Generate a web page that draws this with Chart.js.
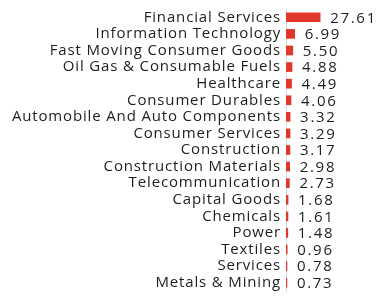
<!DOCTYPE html>
<html>
<head>
<meta charset="utf-8">
<script src="https://cdn.jsdelivr.net/npm/chart.js@4"></script>
<style>
  html, body { margin: 0; padding: 0; background: #fff; }
  #wrap { width: 389px; height: 301px; }
</style>
</head>
<body>
<div id="wrap"><canvas id="sectorChart"></canvas></div>
<script>
// Данные по секторам (%)
const sectors = [
    'Financial Services', 'Information Technology', 'Fast Moving Consumer Goods',
    'Oil Gas & Consumable Fuels', 'Healthcare', 'Consumer Durables',
    'Automobile And Auto Components', 'Consumer Services', 'Construction',
    'Construction Materials', 'Telecommunication', 'Capital Goods',
    'Chemicals', 'Power', 'Textiles', 'Services', 'Metals & Mining'
];
const weights = [27.61, 6.99, 5.50, 4.88, 4.49, 4.06, 3.32, 3.29, 3.17, 2.98, 2.73, 1.68, 1.61, 1.48, 0.96, 0.78, 0.73];

const FONT = '"Open Sans", sans-serif';

// Разрядка букв для подписей оси
const spacing = {
    id: 'spacing',
    beforeDraw(chart) {
        chart.ctx.letterSpacing = '0.85px';
    }
};

// Подписи значений справа от столбцов
const valueLabels = {
    id: 'valueLabels',
    afterDatasetsDraw(chart) {
        const ctx = chart.ctx;
        const meta = chart.getDatasetMeta(0);
        ctx.save();
        ctx.font = '15px ' + FONT;
        ctx.letterSpacing = '1.7px';
        ctx.fillStyle = '#1e1e1e';
        ctx.textAlign = 'left';
        ctx.textBaseline = 'middle';
        meta.data.forEach((bar, i) => {
            ctx.fillText(weights[i].toFixed(2), bar.x + 10, bar.y + 1);
        });
        ctx.restore();
    }
};

const ctx = document.getElementById('sectorChart').getContext('2d');
const chart = new Chart(ctx, {
    type: 'bar',
    data: {
        labels: sectors,
        datasets: [{
            data: weights,
            backgroundColor: '#e0392b',
            barThickness: 9
        }]
    },
    options: {
        indexAxis: 'y',
        responsive: true,
        maintainAspectRatio: false,
        animation: false,
        layout: { padding: { top: 9, bottom: 10, right: 4, left: 0 } },
        plugins: { legend: { display: false }, tooltip: { enabled: false } },
        scales: {
            x: { display: false, min: 0, max: 80 },
            y: {
                grid: { display: false, drawTicks: false },
                border: { display: true, color: '#dddddd', width: 1 },
                afterFit(scale) {
                    scale.width = 286;
                    scale.paddingTop = 0;
                    scale.paddingBottom = 0;
                },
                ticks: {
                    autoSkip: false,
                    color: '#1e1e1e',
                    padding: 5,
                    font: { family: FONT, size: 15 }
                }
            }
        }
    },
    plugins: [spacing, valueLabels]
});
</script>
</body>
</html>
